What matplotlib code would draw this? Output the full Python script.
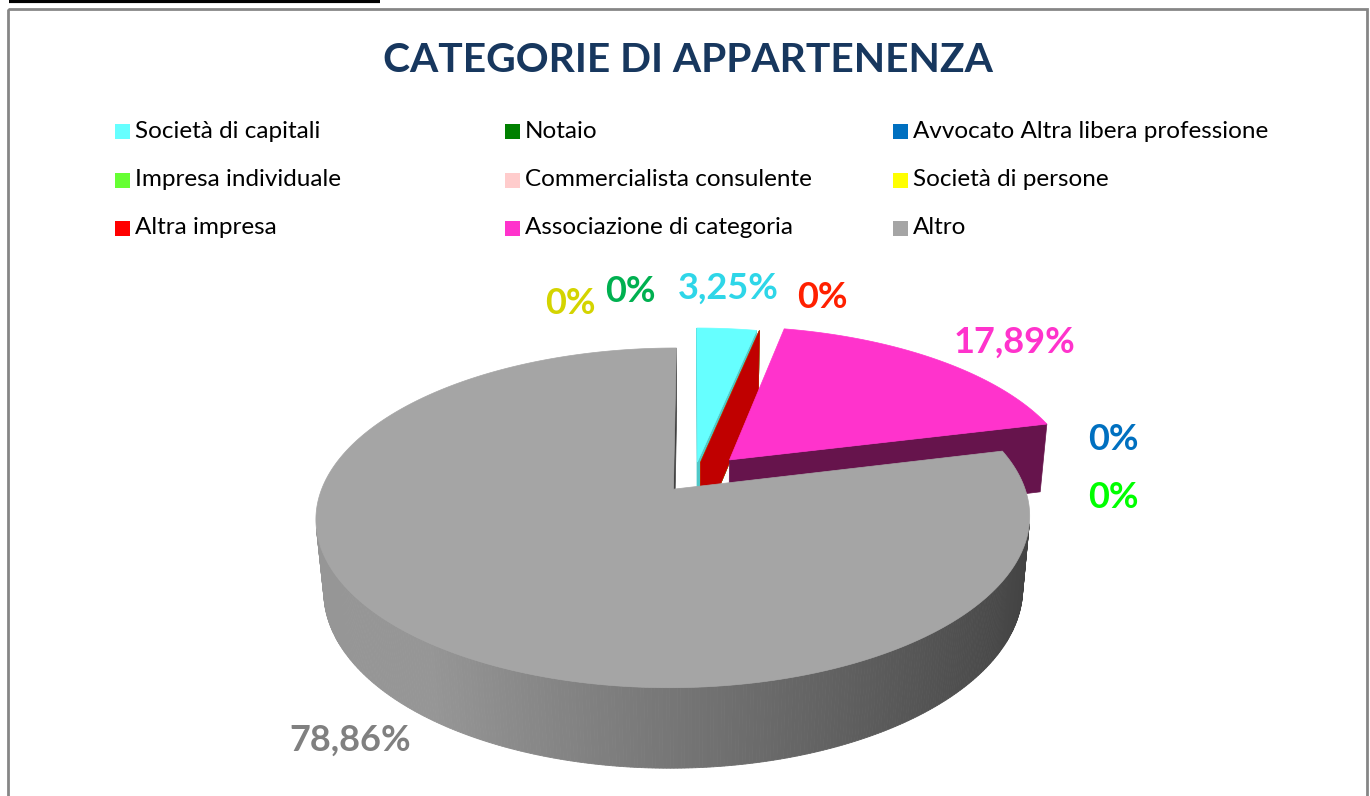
import matplotlib
matplotlib.use("agg")

from matplotlib import pyplot as plt
from matplotlib.patches import Rectangle
import numpy as np

# data
categories = ["Società di capitali", "Notaio", "Avvocato Altra libera professione",
              "Impresa individuale", "Commercialista consulente", "Società di persone",
              "Altra impresa", "Associazione di categoria", "Altro"]
values = [3.25, 0, 0, 0, 0, 0, 0, 17.89, 78.86]
colors = ["#66FFFF", "#008000", "#0070C0", "#66FF33", "#FFCCCC", "#FFFF00",
          "#FF0000", "#FF33CC", "#A5A5A5"]
side_colors = ["#4FC8C8", "#006000", "#005090", "#4CC026", "#C09999", "#C0C000",
               "#C00000", "#66144C", None]
explode = [0.095, 0.095, 0.095, 0.095, 0.095, 0.095, 0.095, 0.15, 0.095]
label_texts = ["3,25%", "0%", "0%", "0%", "0%", "0%", "0%", "17,89%", "78,86%"]
label_colors = ["#2ED6E8", "#00B050", "#0070C0", "#00FF00", "#FFB0B0", "#D4D400",
                "#FF2000", "#FF33CC", "#808080"]
# label anchor (pixels), where Excel put the labels
label_pos = [(728, 288), (630, 292), (1113, 440), (1113, 497), None, (570, 303),
             (822, 297), (1015, 342), (350, 740)]

# view of the 3D pie
ELEV = np.radians(27.6)
DIST = 5.32
FOC = 1848
CX, CY = 694, 477
THICK = 0.234
CAM = np.array([0.0, -DIST * np.cos(ELEV), DIST * np.sin(ELEV)])


def proj(x, y, z):
    depth = DIST + y * np.cos(ELEV) - z * np.sin(ELEV)
    u = x * FOC / depth
    v = (y * np.sin(ELEV) + z * np.cos(ELEV)) * FOC / depth
    return CX + u, CY - v


def facing(normal, point):
    return np.dot(normal, CAM - point) > 0


def shade_grey(nx):
    # light from the left: bright on the left side, dark on the right
    t = np.clip((1 - nx) / 1.6, 0, 1)
    g = 0.255 + 0.335 * t
    return (g, g, g)


plt.rcParams['font.family'] = ['Lato', 'DejaVu Sans']

fig = plt.figure(figsize=(13.7, 7.96), dpi=100)
ax = fig.add_axes([0, 0, 1, 1])
ax.set_xlim(0, 1370)
ax.set_ylim(796, 0)
ax.axis("off")

# frame
ax.add_patch(Rectangle((8, 9), 1359, 800, fill=False, edgecolor="#868686", lw=2))
ax.plot([9, 380], [1, 1], color="black", lw=3, solid_capstyle="butt")

ax.text(688, 61, "CATEGORIE DI APPARTENENZA", ha="center", va="center",
        fontsize=29.3, fontweight="bold", color="#17375E")

# legend, row by row in three columns
leg_x = [115, 505, 893]
leg_y = [131, 180, 228]
for i, name in enumerate(categories):
    lx = leg_x[i % 3]
    ly = leg_y[i // 3]
    ax.add_patch(Rectangle((lx, ly - 7.5), 15, 15, color=colors[i], lw=0))
    ax.text(lx + 20, ly, name, ha="left", va="center", fontsize=17.5, color="black")

# slices
total = sum(values)
bounds = np.concatenate([[0], np.cumsum(values)]) / total * 360
slices = []
for i, v in enumerate(values):
    a0, a1 = np.radians(bounds[i]), np.radians(bounds[i + 1])
    mid = (a0 + a1) / 2
    off = explode[i] * np.array([np.sin(mid), np.cos(mid)])
    key = np.array([off[0] + 0.5 * np.sin(mid), off[1] + 0.5 * np.cos(mid), 0])
    dist = np.linalg.norm(CAM - key)
    slices.append((dist, i, a0, a1, off))

slices.sort(key=lambda s: -s[0])

for dist, i, a0, a1, off in slices:
    ox, oy = off
    n = max(int(np.degrees(a1 - a0)), 1) * 2
    th = np.linspace(a0, a1, n + 1)
    rx = ox + np.sin(th)
    ry = oy + np.cos(th)

    # radial faces
    for ang, sgn in ((a0, -1), (a1, 1)):
        normal = sgn * np.array([np.cos(ang), -np.sin(ang), 0])
        px, py = ox + np.sin(ang), oy + np.cos(ang)
        if facing(normal, np.array([(ox + px) / 2, (oy + py) / 2, -THICK / 2])):
            xs = [ox, px, px, ox]
            ys = [oy, py, py, oy]
            zs = [0, 0, -THICK, -THICK]
            qx, qy = proj(np.array(xs), np.array(ys), np.array(zs))
            c = side_colors[i] if side_colors[i] else shade_grey(normal[0])
            ax.fill(qx, qy, color=c, lw=0.5, ec=c, zorder=2)

    # outer wall
    if values[i] > 0:
        for k in range(n):
            tm = (th[k] + th[k + 1]) / 2
            normal = np.array([np.sin(tm), np.cos(tm), 0])
            if not facing(normal, np.array([ox + np.sin(tm), oy + np.cos(tm), -THICK / 2])):
                continue
            xs = np.array([rx[k], rx[k + 1], rx[k + 1], rx[k]])
            ys = np.array([ry[k], ry[k + 1], ry[k + 1], ry[k]])
            zs = np.array([0, 0, -THICK, -THICK])
            qx, qy = proj(xs, ys, zs)
            c = side_colors[i] if side_colors[i] else shade_grey(normal[0])
            ax.fill(qx, qy, color=c, lw=0.6, ec=c, zorder=2)

        # top face
        tx, ty = proj(np.concatenate([[ox], rx]), np.concatenate([[oy], ry]),
                      np.zeros(n + 2))
        ax.fill(tx, ty, color=colors[i], lw=0.5, ec=colors[i], zorder=2)

# data labels
for i, txt in enumerate(label_texts):
    if label_pos[i] is None:
        continue
    ax.text(label_pos[i][0], label_pos[i][1], txt, ha="center", va="center",
            fontsize=26, fontweight="bold", color=label_colors[i], zorder=3)

fig.savefig("out.png", dpi=100)
